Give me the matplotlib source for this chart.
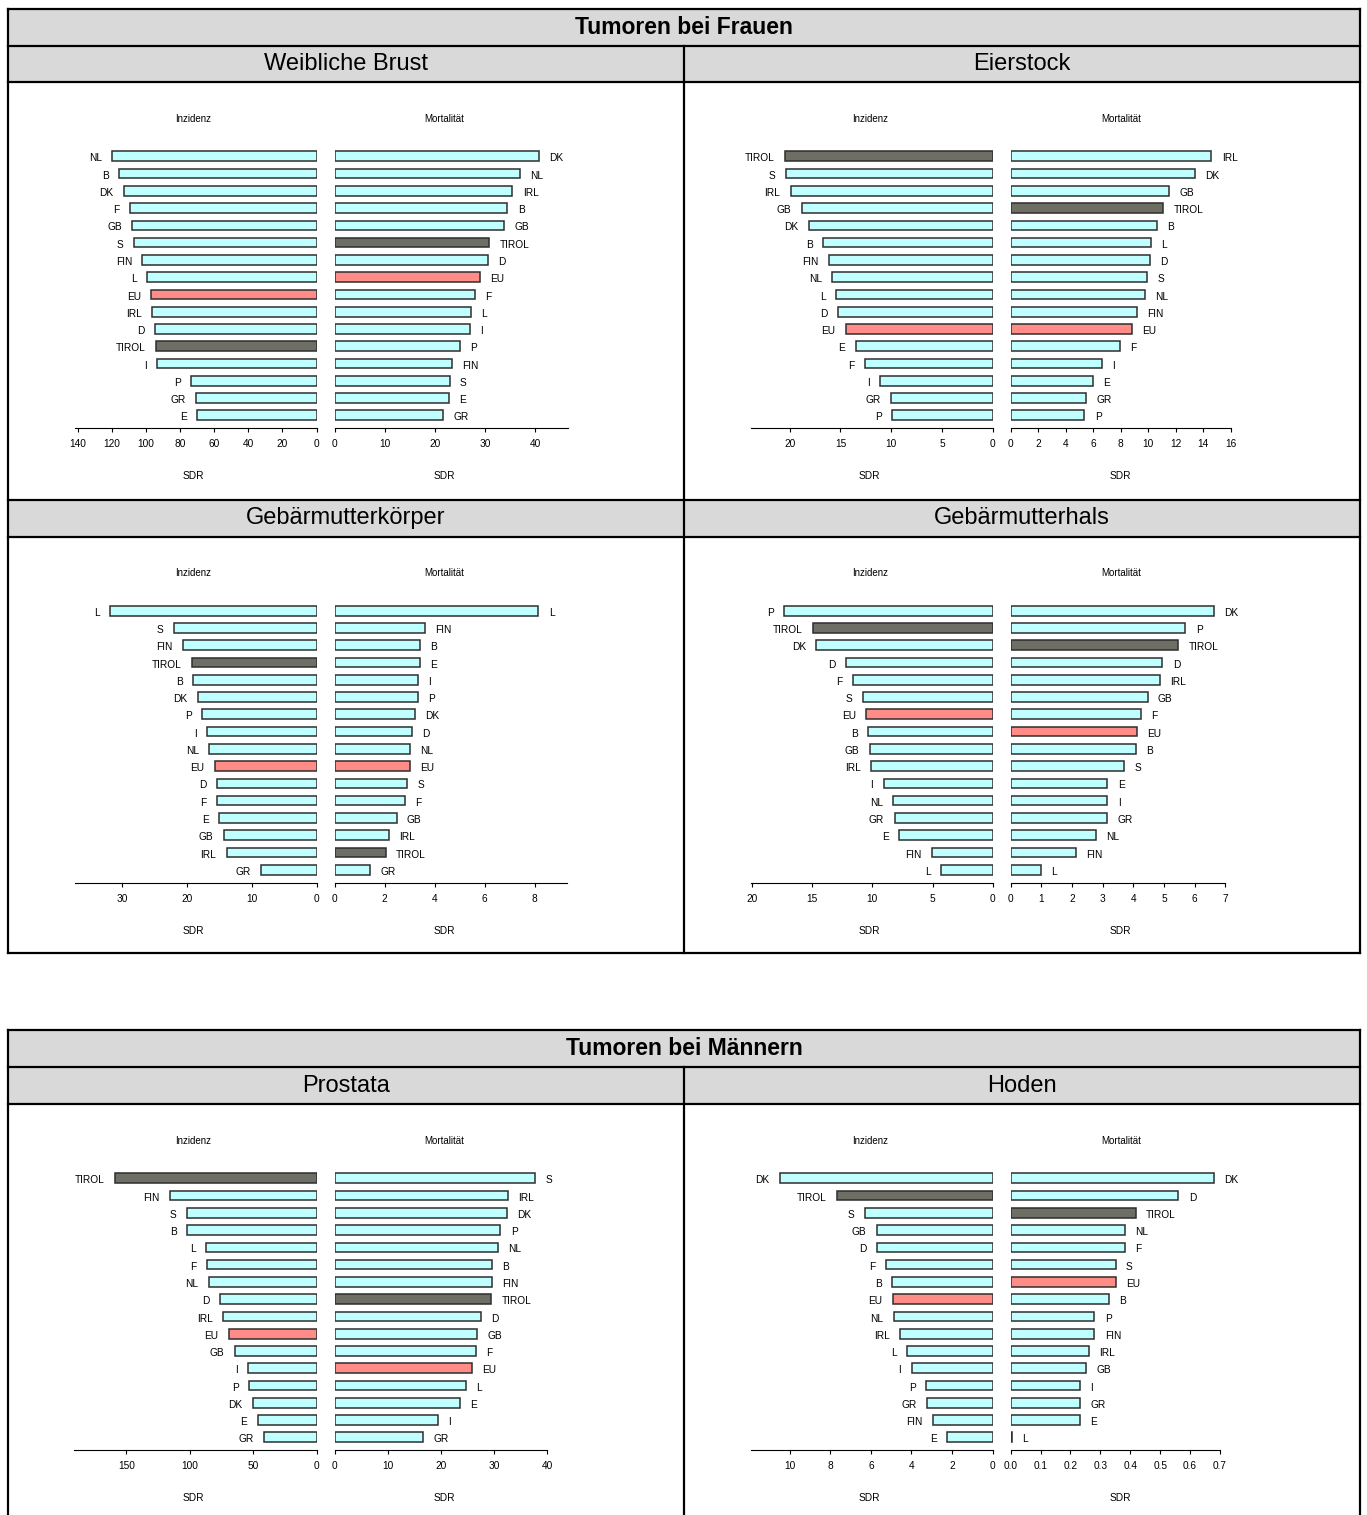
import matplotlib.pyplot as plt
from matplotlib.patches import Rectangle
from matplotlib.lines import Line2D
from matplotlib.ticker import FormatStrFormatter

plt.rcParams['font.family'] = ['Liberation Sans', 'DejaVu Sans']

# --- data (SDR values) ---
brust_inz_labels = ['NL', 'B', 'DK', 'F', 'GB', 'S', 'FIN', 'L', 'EU', 'IRL', 'D', 'TIROL', 'I', 'P', 'GR', 'E']
brust_inz = [120.0, 115.9, 113.2, 109.5, 108.1, 107.1, 102.2, 99.7, 97.1, 96.3, 94.6, 94.4, 93.4, 73.6, 70.7, 70.1]
brust_mort_labels = ['DK', 'NL', 'IRL', 'B', 'GB', 'TIROL', 'D', 'EU', 'F', 'L', 'I', 'P', 'FIN', 'S', 'E', 'GR']
brust_mort = [40.7, 36.9, 35.4, 34.4, 33.7, 30.8, 30.5, 29.0, 27.9, 27.1, 27.0, 24.9, 23.3, 22.9, 22.7, 21.7]

eier_inz_labels = ['TIROL', 'S', 'IRL', 'GB', 'DK', 'B', 'FIN', 'NL', 'L', 'D', 'EU', 'E', 'F', 'I', 'GR', 'P']
eier_inz = [20.5, 20.4, 19.9, 18.8, 18.1, 16.7, 16.1, 15.8, 15.4, 15.2, 14.5, 13.5, 12.6, 11.1, 10.0, 9.9]
eier_mort_labels = ['IRL', 'DK', 'GB', 'TIROL', 'B', 'L', 'D', 'S', 'NL', 'FIN', 'EU', 'F', 'I', 'E', 'GR', 'P']
eier_mort = [14.6, 13.4, 11.5, 11.1, 10.65, 10.2, 10.1, 9.9, 9.75, 9.15, 8.8, 7.95, 6.65, 6.0, 5.45, 5.35]

koerper_inz_labels = ['L', 'S', 'FIN', 'TIROL', 'B', 'DK', 'P', 'I', 'NL', 'EU', 'D', 'F', 'E', 'GB', 'IRL', 'GR']
koerper_inz = [31.9, 22.1, 20.6, 19.3, 19.1, 18.3, 17.7, 16.9, 16.6, 15.7, 15.4, 15.4, 15.0, 14.3, 13.9, 8.6]
koerper_mort_labels = ['L', 'FIN', 'B', 'E', 'I', 'P', 'DK', 'D', 'NL', 'EU', 'S', 'F', 'GB', 'IRL', 'TIROL', 'GR']
koerper_mort = [8.14, 3.61, 3.42, 3.40, 3.32, 3.32, 3.22, 3.10, 3.00, 3.00, 2.89, 2.80, 2.48, 2.16, 2.05, 1.41]

hals_inz_labels = ['P', 'TIROL', 'DK', 'D', 'F', 'S', 'EU', 'B', 'GB', 'IRL', 'I', 'NL', 'GR', 'E', 'FIN', 'L']
hals_inz = [17.3, 14.9, 14.65, 12.15, 11.6, 10.8, 10.5, 10.35, 10.2, 10.1, 9.05, 8.25, 8.15, 7.75, 5.05, 4.3]
hals_mort_labels = ['DK', 'P', 'TIROL', 'D', 'IRL', 'GB', 'F', 'EU', 'B', 'S', 'E', 'I', 'GR', 'NL', 'FIN', 'L']
hals_mort = [6.62, 5.69, 5.45, 4.94, 4.87, 4.46, 4.24, 4.11, 4.07, 3.69, 3.15, 3.15, 3.13, 2.77, 2.13, 0.98]

prostata_inz_labels = ['TIROL', 'FIN', 'S', 'B', 'L', 'F', 'NL', 'D', 'IRL', 'EU', 'GB', 'I', 'P', 'DK', 'E', 'GR']
prostata_inz = [159.0, 116.0, 102.6, 102.0, 87.3, 86.5, 85.2, 75.9, 73.8, 69.3, 64.6, 54.0, 53.3, 50.4, 46.4, 41.4]
prostata_mort_labels = ['S', 'IRL', 'DK', 'P', 'NL', 'B', 'FIN', 'TIROL', 'D', 'GB', 'F', 'EU', 'L', 'E', 'I', 'GR']
prostata_mort = [37.8, 32.6, 32.4, 31.2, 30.8, 29.6, 29.6, 29.5, 27.5, 26.8, 26.6, 25.9, 24.7, 23.6, 19.4, 16.7]

hoden_inz_labels = ['DK', 'TIROL', 'S', 'GB', 'D', 'F', 'B', 'EU', 'NL', 'IRL', 'L', 'I', 'P', 'GR', 'FIN', 'E']
hoden_inz = [10.48, 7.65, 6.31, 5.70, 5.70, 5.25, 4.94, 4.91, 4.88, 4.56, 4.22, 3.99, 3.27, 3.23, 2.94, 2.25]
hoden_mort_labels = ['DK', 'D', 'TIROL', 'NL', 'F', 'S', 'EU', 'B', 'P', 'FIN', 'IRL', 'GB', 'I', 'GR', 'E', 'L']
hoden_mort = [0.680, 0.561, 0.418, 0.381, 0.381, 0.351, 0.351, 0.329, 0.280, 0.280, 0.262, 0.251, 0.232, 0.232, 0.232, 0.003]

CYAN = '#C0FFFF'
TIROL_C = '#6E6E64'
EU_C = '#FF8C86'
EDGE = '#2E2E2E'
GRAY = '#D9D9D9'

W, H = 1367, 1515
fig = plt.figure(figsize=(W / 100, H / 100), dpi=100)


def fx(x):
    return x / W


def fy(y):
    return 1 - y / H


def hline(x0, x1, y, lw=1.6):
    fig.add_artist(Line2D([fx(x0), fx(x1)], [fy(y), fy(y)], color='black', lw=lw,
                          transform=fig.transFigure))


def vline(x, y0, y1, lw=1.6):
    fig.add_artist(Line2D([fx(x), fx(x)], [fy(y0), fy(y1)], color='black', lw=lw,
                          transform=fig.transFigure))


def band(x0, y0, x1, y1):
    fig.add_artist(Rectangle((fx(x0), fy(y1)), (x1 - x0) / W, (y1 - y0) / H,
                             facecolor=GRAY, edgecolor='none', transform=fig.transFigure))


def bar_colors(labels):
    return [TIROL_C if l == 'TIROL' else EU_C if l == 'EU' else CYAN for l in labels]


def draw_half(ax, labels, vals, ticks, left, line_end=None, fmt=None):
    ys = list(range(len(vals)))
    ax.barh(ys, vals, height=0.56, color=bar_colors(labels), edgecolor=EDGE, linewidth=1.1)
    ax.set_ylim(15.753, -0.753)
    for s in ['top', 'left', 'right']:
        ax.spines[s].set_visible(False)
    ax.spines['bottom'].set_linewidth(0.8)
    ax.set_yticks([])
    ax.set_xticks(ticks)
    ax.tick_params(axis='x', length=3, width=0.8, pad=5, labelsize=7.3)
    if fmt:
        ax.xaxis.set_major_formatter(FormatStrFormatter(fmt))
    for i, (lab, v) in enumerate(zip(labels, vals)):
        if left:
            ax.annotate(lab, xy=(v, i), xytext=(-7.5, -1.5), textcoords='offset points',
                        ha='right', va='center', fontsize=7.3)
        else:
            ax.annotate(lab, xy=(v, i), xytext=(7.5, -1.5), textcoords='offset points',
                        ha='left', va='center', fontsize=7.3)
    if line_end is not None:
        ax.spines['bottom'].set_visible(False)
        ax.plot([0, line_end], [0, 0], transform=ax.get_xaxis_transform(),
                color='black', lw=0.8, clip_on=False)


def panel(px, py, inc_lab, inc, mort_lab, mort, inc_max, inc_ticks,
          mort_max, mort_end, mort_ticks, fmt=None):
    axl = fig.add_axes([fx(px + 67), fy(py + 346), 242 / W, 285 / H])
    axl.set_xlim(inc_max, 0)
    draw_half(axl, inc_lab, inc, inc_ticks, True)
    axr = fig.add_axes([fx(px + 327), fy(py + 346), 220 / W, 285 / H])
    axr.set_xlim(0, mort_max)
    draw_half(axr, mort_lab, mort, mort_ticks, False, line_end=mort_end, fmt=fmt)
    for cx, t in [(186, 'Inzidenz'), (437, 'Mortalität')]:
        fig.text(fx(px + cx), fy(py + 36.7), t, ha='center', va='center', fontsize=7)
        fig.text(fx(px + cx), fy(py + 394), 'SDR', ha='center', va='center', fontsize=7.3)


# --- table frames ---
L, R, MID = 7.5, 1360, 683.7
band(L, 9, R, 82.3)
band(L, 500.3, R, 536.7)
band(L, 1030, R, 1104.3)
for y in [9, 45.7, 82.3, 500.3, 536.7, 953.3, 1030, 1067.3, 1104.3]:
    hline(L, R, y)
vline(L, 9, 953.3)
vline(R, 9, 953.3)
vline(MID, 45.7, 953.3)
vline(L, 1030, 1520)
vline(R, 1030, 1520)
vline(MID, 1067.3, 1520)

cl, cr = (L + MID) / 2, (MID + R) / 2
fig.text(fx(684), fy(27.5), 'Tumoren bei Frauen', ha='center', va='center', fontsize=16.5, fontweight='bold')
fig.text(fx(684), fy(1048.7), 'Tumoren bei Männern', ha='center', va='center', fontsize=16.5, fontweight='bold')
for x, y, t in [(cl, 64, 'Weibliche Brust'), (cr, 64, 'Eierstock'),
                (cl, 518.5, 'Gebärmutterkörper'), (cr, 518.5, 'Gebärmutterhals'),
                (cl, 1085.8, 'Prostata'), (cr, 1085.8, 'Hoden')]:
    fig.text(fx(x), fy(y), t, ha='center', va='center', fontsize=17)

# --- panels ---
panel(L, 82.3, brust_inz_labels, brust_inz, brust_mort_labels, brust_mort,
      142.1, range(0, 141, 20), 43.8, 46.4, range(0, 41, 10))
panel(MID, 82.3, eier_inz_labels, eier_inz, eier_mort_labels, eier_mort,
      23.84, range(0, 21, 5), 15.84, 16, range(0, 17, 2))
panel(L, 536.7, koerper_inz_labels, koerper_inz, koerper_mort_labels, koerper_mort,
      37.4, range(0, 31, 10), 8.79, 9.29, range(0, 9, 2))
panel(MID, 536.7, hals_inz_labels, hals_inz, hals_mort_labels, hals_mort,
      20.1, range(0, 21, 5), 7.17, 7, range(0, 8, 1))
panel(L, 1104.3, prostata_inz_labels, prostata_inz, prostata_mort_labels, prostata_mort,
      191, range(0, 151, 50), 41.4, 40, range(0, 41, 10))
panel(MID, 1104.3, hoden_inz_labels, hoden_inz, hoden_mort_labels, hoden_mort,
      11.92, range(0, 11, 2), 0.736, 0.7, [0, 0.1, 0.2, 0.3, 0.4, 0.5, 0.6, 0.7], fmt='%.1f')

fig.savefig('out.png', dpi=100)
